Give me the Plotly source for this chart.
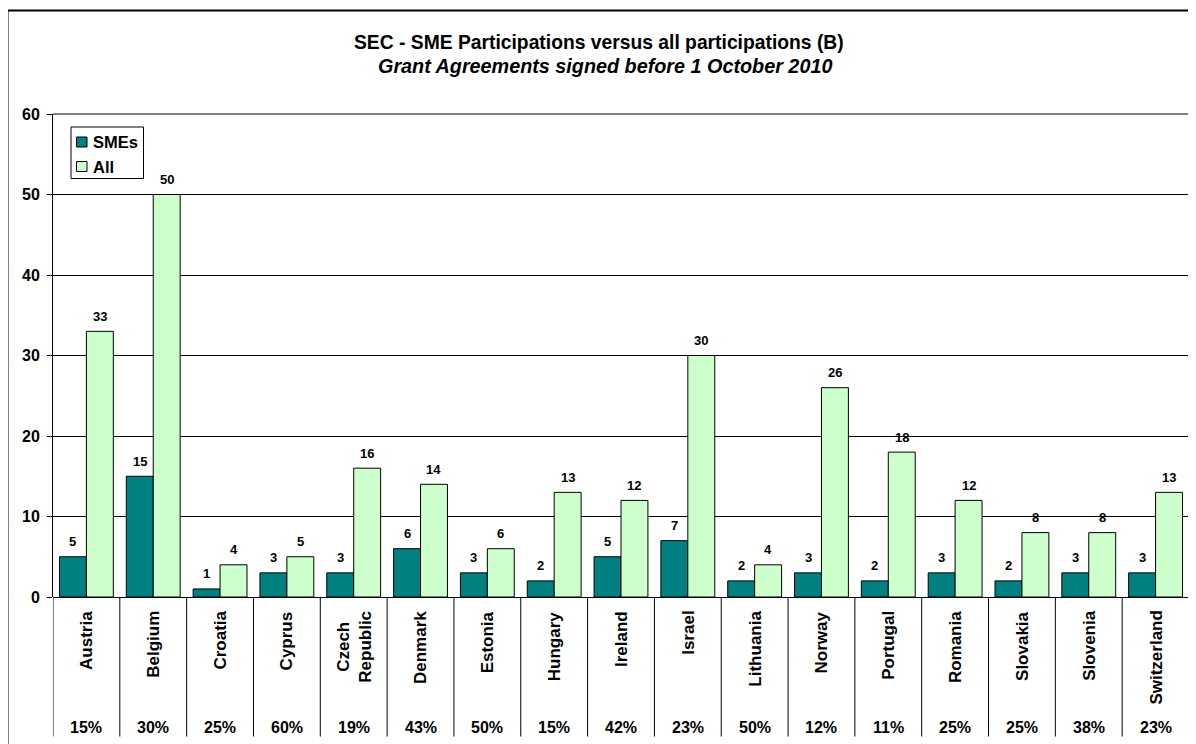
import plotly.graph_objects as go

countries = ["Austria", "Belgium", "Croatia", "Cyprus", "Czech<br>Republic", "Denmark",
             "Estonia", "Hungary", "Ireland", "Israel", "Lithuania", "Norway", "Portugal",
             "Romania", "Slovakia", "Slovenia", "Switzerland"]
smes = [5, 15, 1, 3, 3, 6, 3, 2, 5, 7, 2, 3, 2, 3, 2, 3, 3]
all_parts = [33, 50, 4, 5, 16, 14, 6, 13, 12, 30, 4, 26, 18, 12, 8, 8, 13]
shares = ["15%", "30%", "25%", "60%", "19%", "43%", "50%", "15%", "42%", "23%",
          "50%", "12%", "11%", "25%", "25%", "38%", "23%"]
series_names = ["SMEs", "All"]
series_colors = ["#008080", "#CCFFCC"]

FONT = "Arial, Liberation Sans, sans-serif"
OFF = 8  # page body margin
W, H = 1196 - OFF, 744 - OFF
# target screen pixel positions
SCR_L, SCR_R, SCR_T, SCR_B = 53, 1189, 114, 597
L = SCR_L - OFF
T = SCR_T - OFF
R = W - (SCR_R - OFF)
B = H - (SCR_B - OFF)
PH = H - T - B
PW = W - L - R

def py(scr):
    return (SCR_B - scr) / PH

def px(scr):
    return (scr - SCR_L) / PW

BW = 0.403  # bar width in category units
idx = list(range(len(countries)))

fig = go.Figure()
for k, (name, vals, col) in enumerate(zip(series_names, [smes, all_parts], series_colors)):
    fig.add_trace(go.Bar(
        x=idx, y=vals, name=name, width=BW, offset=-BW + k * BW,
        marker=dict(color=col, line=dict(color="black", width=1)),
        showlegend=False,
    ))

annotations = []
for k, vals in enumerate([smes, all_parts]):
    for i, v in enumerate(vals):
        annotations.append(dict(x=i - BW / 2 + k * BW, y=v, xref="x", yref="y",
                                text="<b>%d</b>" % v, showarrow=False,
                                xanchor="center", yanchor="middle", yshift=15,
                                font=dict(family=FONT, size=13, color="black")))

shapes = []
for i in range(len(countries) + 1):
    shapes.append(dict(type="line", xref="x", yref="paper",
                       x0=i - 0.5, x1=i - 0.5, y0=0, y1=py(736.5),
                       line=dict(color="#808080" if i == len(countries) else "black", width=1)))
shapes.append(dict(type="line", xref="paper", yref="paper", x0=0, x1=1, y0=1, y1=1,
                   line=dict(color="#808080", width=2)))
shapes.append(dict(type="line", xref="paper", yref="paper", x0=1, x1=1, y0=0, y1=1,
                   line=dict(color="#808080", width=2)))
shapes.append(dict(type="rect", xref="paper", yref="paper",
                   x0=px(7.5), x1=px(1300), y0=py(10.5), y1=py(900),
                   line=dict(color="black", width=2)))
# legend box and swatches
shapes.append(dict(type="rect", xref="paper", yref="paper",
                   x0=px(71), x1=px(143.5), y0=py(127), y1=py(178.5),
                   line=dict(color="black", width=1), fillcolor="white", layer="above"))
leg_y = [142, 166.5]
for k in range(2):
    shapes.append(dict(type="rect", xref="paper", yref="paper",
                       x0=px(76.5), x1=px(87), y0=py(leg_y[k] - 5), y1=py(leg_y[k] + 5),
                       line=dict(color="black", width=1), fillcolor=series_colors[k],
                       layer="above"))
    annotations.append(dict(x=px(90.5), y=py(leg_y[k] + 0.5), xref="paper", yref="paper",
                            text="<b>%s</b>" % series_names[k], showarrow=False,
                            xanchor="left", yanchor="middle",
                            font=dict(family=FONT, size=16.5, color="black")))

for i, c in enumerate(countries):
    annotations.append(dict(x=i, y=py(609), xref="x", yref="paper", text="<b>%s</b>" % c,
                            textangle=-90, showarrow=False, xanchor="center", yanchor="top",
                            font=dict(family=FONT, size=17, color="black")))
    annotations.append(dict(x=i, y=py(727), xref="x", yref="paper", text="<b>%s</b>" % shares[i],
                            showarrow=False, xanchor="center", yanchor="middle",
                            font=dict(family=FONT, size=16, color="black")))
annotations.append(dict(x=px(598.5), y=py(42.5), xref="paper", yref="paper",
                        text="<b>SEC - SME Participations versus all participations (B)</b>",
                        showarrow=False, xanchor="center", yanchor="middle",
                        font=dict(family=FONT, size=19.3, color="black")))
annotations.append(dict(x=px(605), y=py(66.5), xref="paper", yref="paper",
                        text="<b><i>Grant Agreements signed before 1 October 2010</i></b>",
                        showarrow=False, xanchor="center", yanchor="middle",
                        font=dict(family=FONT, size=19.8, color="black")))

fig.update_layout(
    width=W, height=H,
    margin=dict(l=L, r=R, t=T, b=B, pad=0),
    paper_bgcolor="white", plot_bgcolor="white",
    barmode="overlay",
    font=dict(family=FONT, color="black"),
    showlegend=False,
    xaxis=dict(range=[-0.5, len(countries) - 0.5], showticklabels=False, ticks="",
               showgrid=False, zeroline=False, showline=False, fixedrange=True),
    yaxis=dict(range=[0, 60], dtick=10, showgrid=True, gridcolor="black", gridwidth=1,
               zeroline=True, zerolinecolor="black", zerolinewidth=1,
               showline=True, linecolor="black", linewidth=1,
               ticks="outside", ticklen=5, tickcolor="black",
               tickfont=dict(family=FONT, size=16, color="black", weight="bold"),
               ticklabelstandoff=4, fixedrange=True),
    shapes=shapes, annotations=annotations,
)

fig.write_html("out.html")
